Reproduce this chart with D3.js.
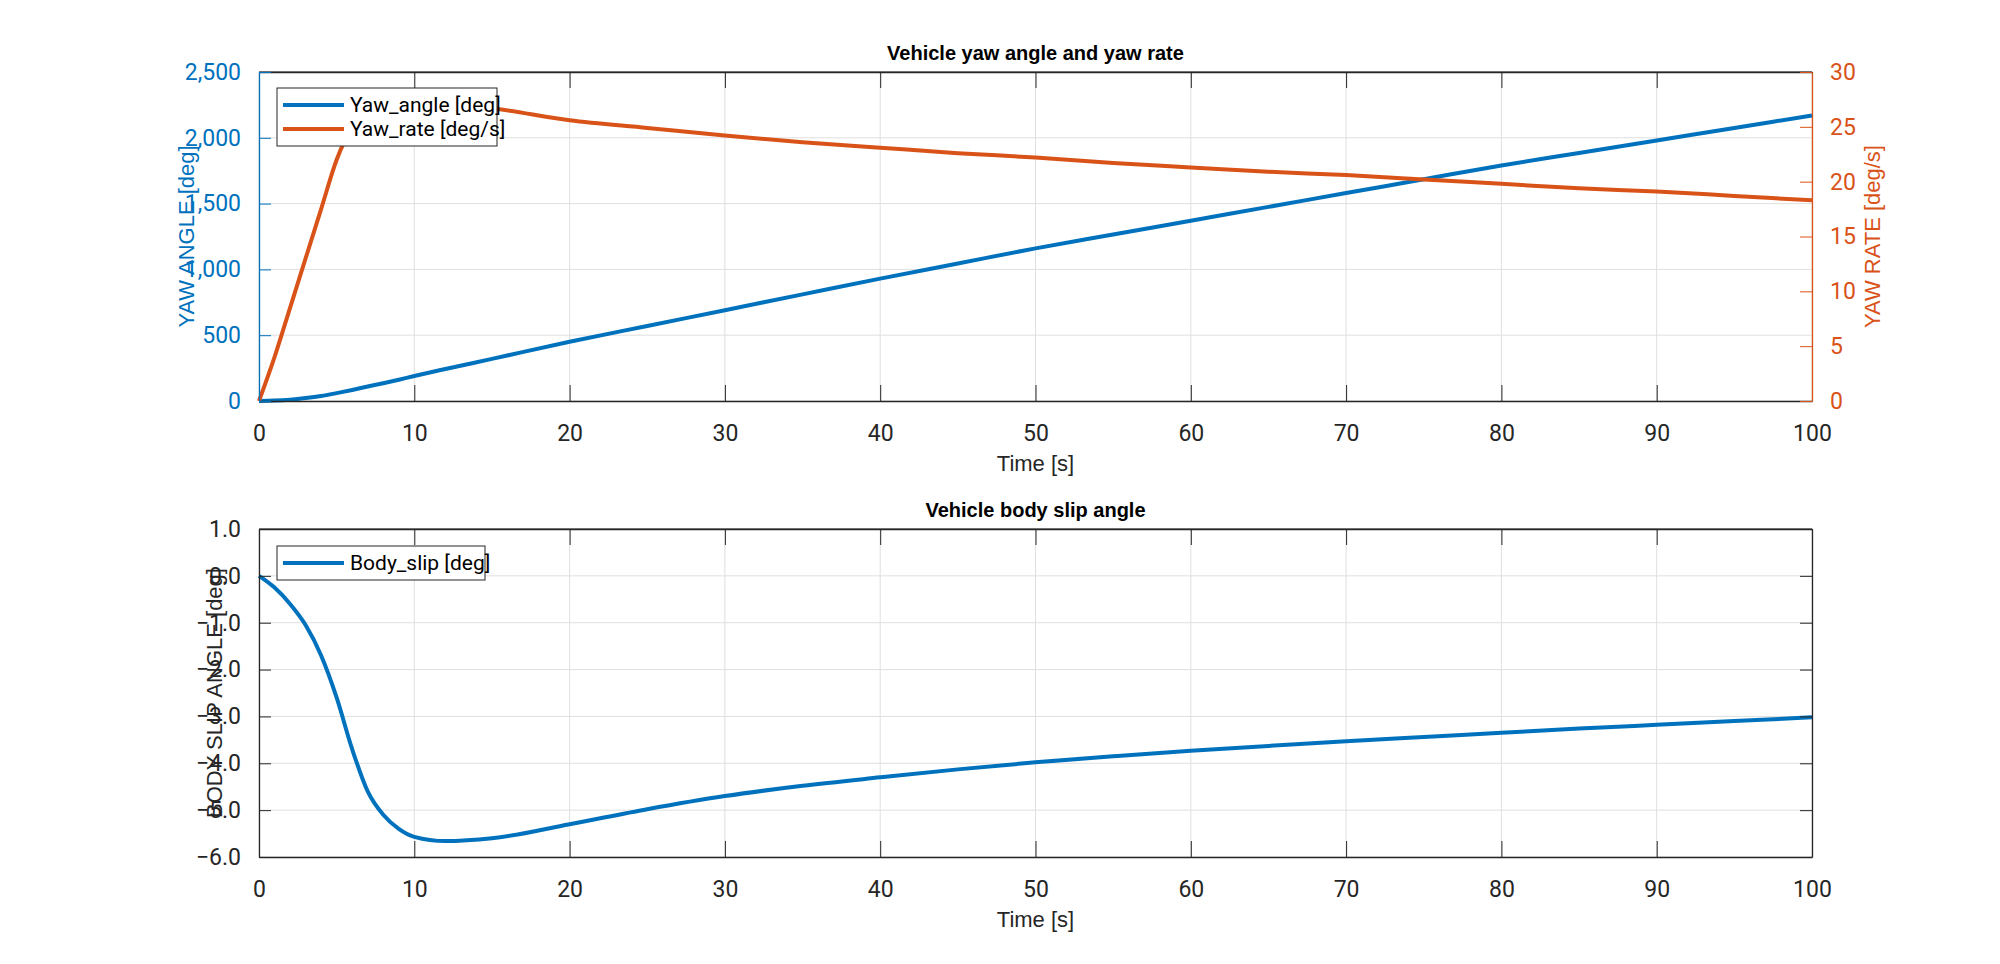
<!DOCTYPE html>
<html><head><meta charset="utf-8">
<script src="https://cdn.jsdelivr.net/npm/d3@7"></script>
<style>body{margin:0;background:#fff}</style></head>
<body><svg id="c" width="2000" height="964"></svg>
<script>
const timeS = [0,1,2,3,4,5,6,7,8,9,10,12,15,20,25,30,35,40,45,50,55,60,65,70,75,80,85,90,95,100];
const yawAngle = [0,3,10,22,38,60,84,110,135,162,190,243,320,450,570,690,810,930,1045,1160,1265,1370,1475,1580,1685,1790,1885,1980,2075,2170];
const yawRate = [0,4,8.5,13,17.5,22,25,26.6,27.3,27.4,27.3,27.1,26.7,25.6,24.9,24.2,23.6,23.1,22.6,22.2,21.7,21.3,20.9,20.6,20.2,19.8,19.4,19.1,18.7,18.3];
const bodySlip = [0,-0.25,-0.6,-1.05,-1.7,-2.6,-3.7,-4.6,-5.1,-5.4,-5.57,-5.66,-5.6,-5.3,-4.98,-4.7,-4.48,-4.3,-4.13,-3.98,-3.85,-3.73,-3.63,-3.53,-3.44,-3.35,-3.26,-3.18,-3.1,-3.02];
const xTicks = d3.range(0,101,10);
const blue="#0072BD", orange="#D95319", dark="#262626", grid="#dfdfdf";
const svg=d3.select("#c");
const L=259,R=1812;
const tickFont='"Liberation Sans Narrow","Arial Narrow",Roboto,sans-serif';
const x=d3.scaleLinear().domain([0,100]).range([L,R]);

function panel(top,bot,title){
  const g=svg.append("g");
  // grid
  g.selectAll(".vg").data(xTicks).join("line").attr("x1",d=>x(d)).attr("x2",d=>x(d)).attr("y1",top).attr("y2",bot).attr("stroke",grid);
  return g;
}
function hgrid(g,y,ticks){
  g.selectAll(null).data(ticks).join("line").attr("x1",L).attr("x2",R).attr("y1",d=>y(d)).attr("y2",d=>y(d)).attr("stroke",grid);
}
function frameAxes(top,bot,title,yL,yLticks,yLcolor,yLlabel,yR,yRticks){
  // top border
  svg.append("line").attr("x1",L).attr("x2",R).attr("y1",top).attr("y2",top).attr("stroke",dark);
  const xa=svg.append("g").attr("transform",`translate(0,${bot})`).call(d3.axisBottom(x).tickValues(xTicks).tickSize(-16).tickPadding(24).tickSizeOuter(0));
  const xt=svg.append("g").attr("transform",`translate(0,${top})`).call(d3.axisTop(x).tickValues(xTicks).tickSize(-16).tickFormat("").tickSizeOuter(0));
  [xa,xt].forEach(a=>{a.select(".domain").attr("stroke",dark).attr("stroke-width",1.3);a.selectAll("line").attr("stroke",dark);});
  xa.selectAll("text").attr("fill",dark).style("font-family",tickFont).style("font-size","23px");
  const ya=svg.append("g").attr("transform",`translate(${L},0)`).call(d3.axisLeft(yL).tickValues(yLticks).tickSize(-12).tickPadding(18).tickSizeOuter(0));
  ya.select(".domain").attr("stroke",yLcolor).attr("stroke-width",1.3);ya.selectAll("line").attr("stroke",yLcolor);
  ya.selectAll("text").attr("fill",yLcolor).style("font-family",tickFont).style("font-size","23px");
  if(yR){
    const yb=svg.append("g").attr("transform",`translate(${R},0)`).call(d3.axisRight(yR).tickValues(yRticks).tickSize(-12).tickPadding(18).tickSizeOuter(0));
    yb.select(".domain").attr("stroke",orange).attr("stroke-width",1.3);yb.selectAll("line").attr("stroke",orange);
    yb.selectAll("text").attr("fill",orange).style("font-family",tickFont).style("font-size","23px");
  } else {
    const yb=svg.append("g").attr("transform",`translate(${R},0)`).call(d3.axisRight(yL).tickValues(yLticks).tickSize(-12).tickFormat("").tickSizeOuter(0));
    yb.select(".domain").attr("stroke",dark).attr("stroke-width",1.3);yb.selectAll("line").attr("stroke",dark);
  }
  svg.append("text").attr("x",(L+R)/2).attr("y",top-12).attr("text-anchor","middle").attr("font-family","Liberation Sans,Arial,sans-serif").attr("font-weight","bold").attr("font-size",20).attr("fill","#000").text(title);
  svg.append("text").attr("x",(L+R)/2).attr("y",bot+70).attr("text-anchor","middle").attr("font-family","Liberation Sans,Arial,sans-serif").attr("font-size",22).attr("fill",dark).text("Time [s]");
}
function legend(x0,y0,items){
  const w=items.w,h=items.length*24+10;
  svg.append("rect").attr("x",x0).attr("y",y0).attr("width",w).attr("height",h).attr("fill","#fff").attr("stroke",dark).attr("stroke-width",1);
  items.forEach((it,i)=>{
    const yy=y0+17+i*24;
    svg.append("line").attr("x1",x0+6).attr("x2",x0+67).attr("y1",yy).attr("y2",yy).attr("stroke",it.c).attr("stroke-width",4);
    svg.append("text").attr("x",x0+73).attr("y",yy+7).attr("font-family",tickFont).attr("font-size",21).attr("fill","#000").text(it.t);
  });
}

// Panel 1
const T1=72,B1=401;
const y1=d3.scaleLinear().domain([0,2500]).range([B1,T1]);
const y1r=d3.scaleLinear().domain([0,30]).range([B1,T1]);
const g1=panel(T1,B1);
hgrid(g1,y1,d3.range(0,2501,500));
const line1=d3.line().x((d,i)=>x(timeS[i])).y(d=>y1(d)).curve(d3.curveMonotoneX);
const line1r=d3.line().x((d,i)=>x(timeS[i])).y(d=>y1r(d)).curve(d3.curveMonotoneX);
svg.append("path").attr("d",line1(yawAngle)).attr("fill","none").attr("stroke",blue).attr("stroke-width",4);
svg.append("path").attr("d",line1r(yawRate)).attr("fill","none").attr("stroke",orange).attr("stroke-width",4);
frameAxes(T1,B1,"Vehicle yaw angle and yaw rate",y1,d3.range(0,2501,500),blue,"",y1r,d3.range(0,31,5));
const leg1=[{t:"Yaw_angle [deg]",c:blue},{t:"Yaw_rate [deg/s]",c:orange}];leg1.w=220;
legend(277,88,leg1);
svg.append("text").attr("transform",`translate(194,${(T1+B1)/2}) rotate(-90)`).attr("text-anchor","middle").attr("font-family","Liberation Sans,Arial,sans-serif").attr("font-size",22).attr("fill",blue).text("YAW ANGLE [deg]");
svg.append("text").attr("transform",`translate(1880,${(T1+B1)/2}) rotate(-90)`).attr("text-anchor","middle").attr("font-family","Liberation Sans,Arial,sans-serif").attr("font-size",22).attr("fill",orange).text("YAW RATE [deg/s]");

// Panel 2
const T2=529,B2=857;
const y2=d3.scaleLinear().domain([-6,1]).range([B2,T2]);
const g2=panel(T2,B2);
hgrid(g2,y2,d3.range(-6,2,1));
const line2=d3.line().x((d,i)=>x(timeS[i])).y(d=>y2(d)).curve(d3.curveMonotoneX);
svg.append("path").attr("d",line2(bodySlip)).attr("fill","none").attr("stroke",blue).attr("stroke-width",4);
frameAxes(T2,B2,"Vehicle body slip angle",y2,d3.range(-6,2,1),dark,"",null,null);
const leg2=[{t:"Body_slip [deg]",c:blue}];leg2.w=208;
legend(277,546,leg2);
svg.append("text").attr("transform",`translate(222,${(T2+B2)/2}) rotate(-90)`).attr("text-anchor","middle").attr("font-family","Liberation Sans,Arial,sans-serif").attr("font-size",22).attr("fill",dark).text("BODY SLIP ANGLE [deg]");
</script></body></html>
